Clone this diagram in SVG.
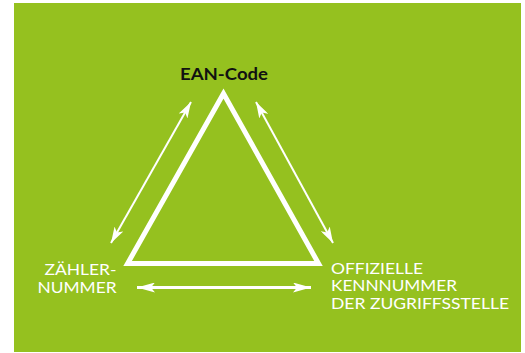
<svg xmlns="http://www.w3.org/2000/svg" width="525" height="353" viewBox="0 0 525 353">
  <defs>
    <marker id="ah" viewBox="0 0 16 10" markerUnits="userSpaceOnUse" markerWidth="16" markerHeight="10" refX="16" refY="5" orient="auto-start-reverse">
      <path d="M0,0 L16,5 L0,10 L4,5 z" fill="#ffffff"/>
    </marker>
    <marker id="ahb" viewBox="0 0 18 10" markerUnits="userSpaceOnUse" markerWidth="18" markerHeight="10" refX="18" refY="5" orient="auto-start-reverse">
      <path d="M0,0 L18,5 L0,10 L4,5 z" fill="#ffffff"/>
    </marker>
  </defs>
  <style>
    .lbl { font-family: "Lato", "Liberation Sans", sans-serif; font-weight: 400; font-size: 16px; fill: #ffffff; }
    .title { font-family: "Lato", "DejaVu Sans", sans-serif; font-weight: 700; font-size: 17px; fill: #111111; }
    .conn { stroke: #ffffff; fill: none; }
  </style>
  <rect x="14" y="3" width="507" height="349" fill="#95c11f"/>
  <g id="triangle">
    <polygon points="223.5,93.5 127.6,263.5 318.5,263.5" fill="none" stroke="#ffffff" stroke-width="5" stroke-linejoin="miter" stroke-miterlimit="10"/>
  </g>
  <g id="node-ean">
    <text class="title" x="224" y="79.5" text-anchor="middle" textLength="88" lengthAdjust="spacingAndGlyphs">EAN-Code</text>
  </g>
  <g id="node-zaehler">
    <text class="lbl" x="116.5" y="274.5" text-anchor="end" textLength="72" lengthAdjust="spacingAndGlyphs">ZÄHLER-</text>
    <text class="lbl" x="116.5" y="292.5" text-anchor="end" textLength="79" lengthAdjust="spacingAndGlyphs">NUMMER</text>
  </g>
  <g id="node-kennnummer">
    <text class="lbl" x="331" y="273.5" textLength="92" lengthAdjust="spacingAndGlyphs">OFFIZIELLE</text>
    <text class="lbl" x="331" y="291" textLength="126" lengthAdjust="spacingAndGlyphs">KENNNUMMER</text>
    <text class="lbl" x="331" y="308.5" textLength="178" lengthAdjust="spacingAndGlyphs">DER ZUGRIFFSSTELLE</text>
  </g>
  <g id="connectors">
    <line class="conn" x1="111" y1="243" x2="191" y2="102" stroke-width="2" marker-start="url(#ah)" marker-end="url(#ah)"/>
    <line class="conn" x1="256" y1="102" x2="333" y2="243" stroke-width="2" marker-start="url(#ah)" marker-end="url(#ah)"/>
    <line class="conn" x1="137" y1="287.5" x2="311" y2="287.5" stroke-width="3" marker-start="url(#ahb)" marker-end="url(#ahb)"/>
  </g>
</svg>
